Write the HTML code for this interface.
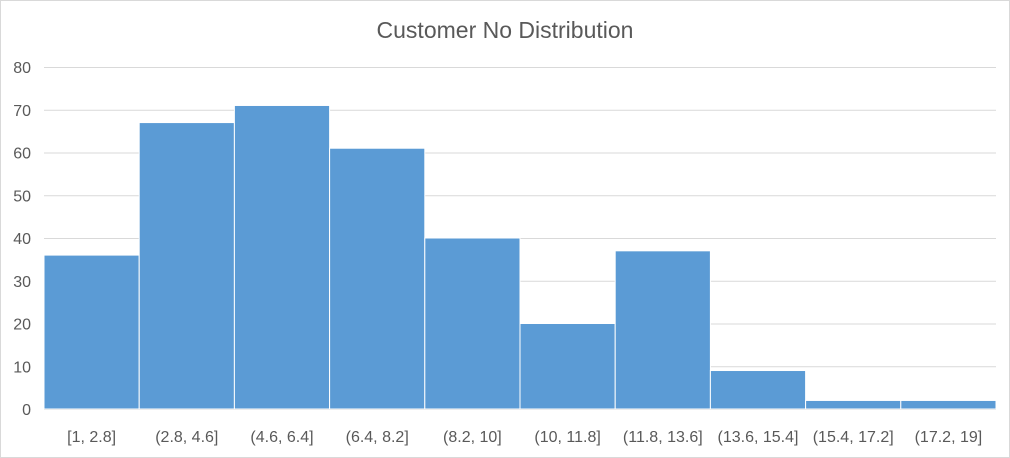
<!DOCTYPE html>
<html><head><meta charset="utf-8"><style>
html,body{margin:0;padding:0;background:#fff;}
svg{display:block;font-family:"Liberation Sans",sans-serif;}
</style></head><body>
<svg id="chart" width="1010" height="458">
<rect x="0.5" y="0.5" width="1009" height="457" fill="#fff" stroke="#d9d9d9"/>
<text x="505" y="38" text-anchor="middle" font-size="23" fill="#595959">Customer No Distribution</text>
<g id="grid"></g><g id="bars"></g><g id="yticks"></g><g id="xticks"></g>
</svg>
<script>
const categories=["[1, 2.8]","(2.8, 4.6]","(4.6, 6.4]","(6.4, 8.2]","(8.2, 10]","(10, 11.8]","(11.8, 13.6]","(13.6, 15.4]","(15.4, 17.2]","(17.2, 19]"];
const counts=[36,67,71,61,40,20,37,9,2,2];
const yTicks=[0,10,20,30,40,50,60,70,80];
const NS="http://www.w3.org/2000/svg";
const x0=44,x1=996,yBase=409,yTop=67,yMax=80;
const y=v=>yBase-(v/yMax)*(yBase-yTop);
const bw=(x1-x0)/categories.length;
const x=i=>x0+i*bw;
function mk(t,a,p){const e=document.createElementNS(NS,t);for(const k in a)e.setAttribute(k,a[k]);p.appendChild(e);return e;}
const grid=document.getElementById('grid'),bars=document.getElementById('bars'),yt=document.getElementById('yticks'),xt=document.getElementById('xticks');
yTicks.forEach(v=>{
 const l=mk('line',{x1:x0,x2:x1,y1:y(v)+0.5,y2:y(v)+0.5,stroke:'#d9d9d9','stroke-width':1},grid);
 
 
 const t=mk('text',{x:31,y:y(v)+6,'text-anchor':'end','font-size':16,fill:'#595959'},yt);
 t.textContent=v;
 
 
});
counts.forEach((c,i)=>{
 const r=mk('rect',{x:x(i),y:y(c),width:bw,height:yBase-y(c),fill:'#5b9bd5',stroke:'#fff','stroke-width':1},bars);
 
 
 const t=mk('text',{x:x(i)+bw/2,y:442,'text-anchor':'middle','font-size':16,fill:'#595959'},xt);
 t.textContent=categories[i];
 
 
});
</script>
</body></html>
